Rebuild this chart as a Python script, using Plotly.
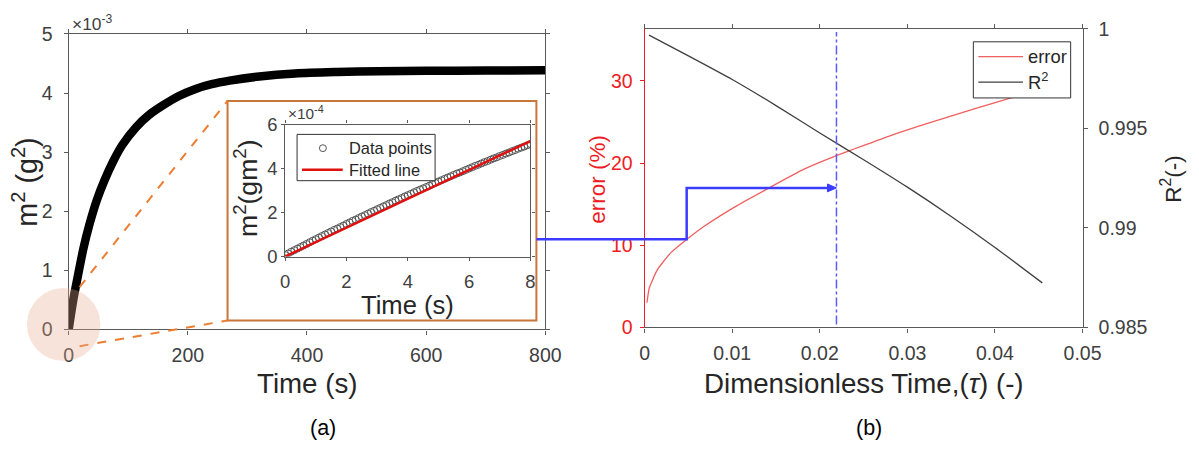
import plotly.graph_objects as go

W, H = 1199, 450

# ---------------- data ----------------
# (a) main curve: time (s) vs m^2 (x1e-3 g^2)
main_t = [0, 8, 15, 25, 35, 47, 60, 75, 90, 113, 135, 158, 185, 213, 240, 270,
          320, 380, 450, 520, 600, 700, 800]
main_m2 = [0, 0.515, 0.88, 1.38, 1.78, 2.18, 2.52, 2.85, 3.12, 3.42, 3.63, 3.79,
           3.95, 4.07, 4.15, 4.21, 4.28, 4.33, 4.355, 4.37, 4.375, 4.38, 4.385]

# (a) inset: first 8 s, m^2 (x1e-4)
inset_t = [0.0, 0.1, 0.2, 0.3, 0.4, 0.5, 0.6, 0.7, 0.8, 0.9,
           1.0, 1.1, 1.2, 1.3, 1.4, 1.5, 1.6, 1.7, 1.8, 1.9,
           2.0, 2.1, 2.2, 2.3, 2.4, 2.5, 2.6, 2.7, 2.8, 2.9,
           3.0, 3.1, 3.2, 3.3, 3.4, 3.5, 3.6, 3.7, 3.8, 3.9,
           4.0, 4.1, 4.2, 4.3, 4.4, 4.5, 4.6, 4.7, 4.8, 4.9,
           5.0, 5.1, 5.2, 5.3, 5.4, 5.5, 5.6, 5.7, 5.8, 5.9,
           6.0, 6.1, 6.2, 6.3, 6.4, 6.5, 6.6, 6.7, 6.8, 6.9,
           7.0, 7.1, 7.2, 7.3, 7.4, 7.5, 7.6, 7.7, 7.8, 7.9,
           8.0]
inset_m2 = [0.07, 0.14, 0.22, 0.29, 0.36, 0.43, 0.50, 0.57, 0.65, 0.72,
            0.79, 0.86, 0.93, 1.00, 1.07, 1.14, 1.21, 1.27, 1.34, 1.41,
            1.48, 1.55, 1.62, 1.68, 1.75, 1.82, 1.88, 1.95, 2.02, 2.08,
            2.15, 2.21, 2.28, 2.34, 2.41, 2.47, 2.54, 2.60, 2.66, 2.73,
            2.79, 2.85, 2.92, 2.98, 3.04, 3.10, 3.16, 3.22, 3.29, 3.35,
            3.41, 3.47, 3.53, 3.59, 3.65, 3.71, 3.77, 3.82, 3.88, 3.94,
            4.00, 4.06, 4.12, 4.17, 4.23, 4.29, 4.34, 4.40, 4.46, 4.51,
            4.57, 4.62, 4.68, 4.73, 4.79, 4.84, 4.90, 4.95, 5.00, 5.06,
            5.11]
fit_t = [0, 8]
fit_m2 = [0.0, 5.25]

# (b) error (%) and R^2 vs dimensionless time
tau_err = [0.00026, 0.00053, 0.0008, 0.0011, 0.0015, 0.00204, 0.003, 0.0048,
           0.0068, 0.0106, 0.014, 0.0182, 0.0219, 0.0257, 0.0288, 0.0334,
           0.038, 0.0421, 0.0455]
err = [3.0, 4.8, 5.5, 6.27, 7.1, 7.87, 9.1, 10.7, 12.3, 14.85, 16.85, 19.25,
       20.9, 22.4, 23.6, 25.2, 26.7, 28.0, 29.1]
tau_r2 = [0.0005, 0.005, 0.01, 0.015, 0.02, 0.025, 0.03, 0.035, 0.04, 0.0454]
r2 = [0.99969, 0.99865, 0.99746, 0.99615, 0.99477, 0.99343, 0.99205, 0.99058,
      0.98902, 0.98724]

# selection marks on (b)
ERR_LOW, ERR_HIGH = 10.74, 16.97
TAU_STEP, TAU_MARK = 0.0048, 0.0219

# tick labels
main_xticks = [0, 200, 400, 600, 800]
main_yticks = [0, 1, 2, 3, 4, 5]
inset_xticks = [0, 2, 4, 6, 8]
inset_yticks = [0, 2, 4, 6]
b_xticks = [0, 0.01, 0.02, 0.03, 0.04, 0.05]
b_xtext = ['0', '0.01', '0.02', '0.03', '0.04', '0.05']
err_ticks = [0, 10, 20, 30]
r2_ticks = [0.985, 0.99, 0.995, 1.0]
r2_text = ['0.985', '0.99', '0.995', '1']

# legend labels
inset_names = ['Data points', 'Fitted line']
b_names = ['error', 'R<sup>2</sup>']

# ---------------- layout geometry ----------------
# target positions are given in picture pixels; the photographed page shows the
# figure with an 8 px page margin scaled back to the window, so map accordingly
SX, SY, OFF = 1215 / 1199, 466 / 450, 8
FS = 1.025  # font compensation for that scaling


def PX(px):
    return (px * SX - OFF) / W


def PY(py):
    return 1 - (py * SY - OFF) / H


def F(s):
    return round(s * FS, 1)


MAIN = dict(l=72, r=552, t=31, b=331)
INS = dict(l=290, r=537, t=123, b=257)
RB = dict(l=652, r=1093, t=26, b=329)
BOX = dict(l=232, r=543, t=99, b=322)
LEG_B = dict(l=983, r=1081, t=39, b=96)
LEG_I = dict(l=302, r=441, t=133, b=180)

ERR_RANGE = [0, 36.3]
R2_RANGE = [0.985, 1.0]
TAU_RANGE = [0, 0.05]


def bxp(tau):
    return RB['l'] + (tau - TAU_RANGE[0]) / (TAU_RANGE[1] - TAU_RANGE[0]) * (RB['r'] - RB['l'])


def byp(e):
    return RB['b'] - (e - ERR_RANGE[0]) / (ERR_RANGE[1] - ERR_RANGE[0]) * (RB['b'] - RB['t'])


FONT = "Liberation Sans, Arial, sans-serif"
GRAY = '#404040'
AXC = '#5a5a5a'
RED = '#ee1c24'
BLUE = '#3c3cff'
ERRC = '#f06060'
R2C = '#404040'
FITC = '#e01010'

fig = go.Figure()

fig.add_trace(go.Scatter(x=main_t, y=main_m2, mode='lines',
                         line=dict(color='black', width=8.5, shape='spline', smoothing=0.8),
                         showlegend=False, xaxis='x', yaxis='y'))

fig.add_trace(go.Scatter(x=inset_t, y=inset_m2, mode='markers', name=inset_names[0],
                         marker=dict(symbol='circle-open', size=7, color='#555555', line=dict(width=1)),
                         xaxis='x2', yaxis='y2', showlegend=False))
fig.add_trace(go.Scatter(x=fit_t, y=fit_m2, mode='lines', name=inset_names[1],
                         line=dict(color=FITC, width=2.5),
                         xaxis='x2', yaxis='y2', showlegend=False))

fig.add_trace(go.Scatter(x=tau_err, y=err, mode='lines', name=b_names[0],
                         line=dict(color=ERRC, width=1.3, shape='spline', smoothing=0.6),
                         xaxis='x3', yaxis='y3', showlegend=False))
fig.add_trace(go.Scatter(x=tau_r2, y=r2, mode='lines', name=b_names[1],
                         line=dict(color=R2C, width=1.3, shape='spline', smoothing=0.6),
                         xaxis='x3', yaxis='y4', showlegend=False))


def axis_common(**kw):
    d = dict(showline=True, linecolor=AXC, linewidth=1.2, ticks='outside', ticklen=4,
             tickcolor=AXC, tickwidth=1.2, showgrid=False, zeroline=False,
             tickfont=dict(family=FONT, size=F(19), color=GRAY))
    d.update(kw)
    return d


fig.update_layout(
    width=W, height=H, autosize=False,
    margin=dict(l=0, r=0, t=0, b=0),
    paper_bgcolor='white', plot_bgcolor='white',
    font=dict(family=FONT, color=GRAY),
    showlegend=False,
    xaxis=axis_common(domain=[PX(MAIN['l']), PX(MAIN['r'])], range=[0, 800],
                      tickvals=main_xticks, mirror='ticks', anchor='y', ticklabelstandoff=4),
    yaxis=axis_common(domain=[PY(MAIN['b']), PY(MAIN['t'])], range=[0, 5],
                      tickvals=main_yticks, mirror='ticks', anchor='x', ticklabelstandoff=7),
    xaxis2=axis_common(domain=[PX(INS['l']), PX(INS['r'])], range=[0, 8],
                       tickvals=inset_xticks, mirror='ticks', anchor='y2', ticklen=3,
                       ticklabelstandoff=5,
                       tickfont=dict(family=FONT, size=F(18), color=GRAY)),
    yaxis2=axis_common(domain=[PY(INS['b']), PY(INS['t'])], range=[0, 6],
                       tickvals=inset_yticks, mirror='ticks', anchor='x2', ticklen=3,
                       tickfont=dict(family=FONT, size=F(18), color=GRAY)),
    xaxis3=axis_common(domain=[PX(RB['l']), PX(RB['r'])], range=TAU_RANGE,
                       tickvals=b_xticks, ticktext=b_xtext, mirror='ticks', anchor='y3',
                       ticklabelstandoff=4),
    yaxis3=axis_common(domain=[PY(RB['b']), PY(RB['t'])], range=ERR_RANGE,
                       tickvals=err_ticks, anchor='x3', linecolor=RED, tickcolor=RED,
                       ticklabelstandoff=3,
                       tickfont=dict(family=FONT, size=F(19), color=RED)),
    yaxis4=axis_common(domain=[PY(RB['b']), PY(RB['t'])], range=R2_RANGE,
                       tickvals=r2_ticks, ticktext=r2_text, overlaying='y3', side='right',
                       anchor='x3', ticklabelstandoff=7),
)

shapes = []
# inset frame
shapes.append(dict(type='rect', xref='paper', yref='paper', x0=PX(BOX['l']), x1=PX(BOX['r']),
                   y0=PY(BOX['b']), y1=PY(BOX['t']), line=dict(color='#c8763a', width=2),
                   layer='below'))
# zoom guide dashed lines
shapes.append(dict(type='line', xref='paper', yref='paper', x0=PX(83), y0=PY(288),
                   x1=PX(BOX['l']), y1=PY(BOX['t']), line=dict(color='#ed7d31', width=2, dash='dash')))
shapes.append(dict(type='line', xref='paper', yref='paper', x0=PX(83), y0=PY(348),
                   x1=PX(BOX['l']), y1=PY(BOX['b']), line=dict(color='#ed7d31', width=2, dash='dash')))
# highlight circle at origin
cx, cy, rr = 67, 326, 37
shapes.append(dict(type='circle', xref='paper', yref='paper', x0=PX(cx - rr), x1=PX(cx + rr),
                   y0=PY(cy + rr), y1=PY(cy - rr), fillcolor='rgba(232,170,140,0.33)',
                   line=dict(width=0), layer='above'))
# blue connector: lower level, step, upper level
yl, yh, xs, xm = byp(ERR_LOW), byp(ERR_HIGH), bxp(TAU_STEP), bxp(TAU_MARK)
path = 'M {:.5f},{:.5f} L {:.5f},{:.5f} L {:.5f},{:.5f} L {:.5f},{:.5f}'.format(
    PX(BOX['r']), PY(yl), PX(xs), PY(yl), PX(xs), PY(yh), PX(xm - 7), PY(yh))
shapes.append(dict(type='path', xref='paper', yref='paper', path=path,
                   line=dict(color=BLUE, width=2.5)))
head = 'M {:.5f},{:.5f} L {:.5f},{:.5f} L {:.5f},{:.5f} Z'.format(
    PX(xm), PY(yh), PX(xm - 9), PY(yh - 4), PX(xm - 9), PY(yh + 4))
shapes.append(dict(type='path', xref='paper', yref='paper', path=head,
                   fillcolor=BLUE, line=dict(color=BLUE, width=1)))
# vertical dash-dot marker
shapes.append(dict(type='line', xref='x3', yref='y3 domain', x0=TAU_MARK, x1=TAU_MARK,
                   y0=0.01, y1=0.99, line=dict(color='#5a5aff', width=1.5, dash='dashdot')))

# legend (b)
shapes.append(dict(type='rect', xref='paper', yref='paper', x0=PX(LEG_B['l']), x1=PX(LEG_B['r']),
                   y0=PY(LEG_B['b']), y1=PY(LEG_B['t']), fillcolor='white',
                   line=dict(color='#333333', width=1)))
for yy, col in [(54, ERRC), (80, R2C)]:
    shapes.append(dict(type='line', xref='paper', yref='paper', x0=PX(988), x1=PX(1033),
                       y0=PY(yy), y1=PY(yy), line=dict(color=col, width=1.3)))
# legend (inset)
shapes.append(dict(type='rect', xref='paper', yref='paper', x0=PX(LEG_I['l']), x1=PX(LEG_I['r']),
                   y0=PY(LEG_I['b']), y1=PY(LEG_I['t']), fillcolor='white',
                   line=dict(color='#333333', width=1)))
shapes.append(dict(type='circle', xref='paper', yref='paper', x0=PX(324.5), x1=PX(331.5),
                   y0=PY(150.5), y1=PY(143.5), line=dict(color='#555555', width=1)))
shapes.append(dict(type='line', xref='paper', yref='paper', x0=PX(307), x1=PX(348),
                   y0=PY(169), y1=PY(169), line=dict(color=FITC, width=2.5)))
fig.update_layout(shapes=shapes)

ann = []


def txt(text, x, y, size, color='#262626', angle=0, xanchor='center', yanchor='middle'):
    ann.append(dict(text=text, x=PX(x), y=PY(y), xref='paper', yref='paper', showarrow=False,
                    font=dict(family=FONT, size=F(size), color=color), textangle=angle,
                    xanchor=xanchor, yanchor=yanchor))


txt('Time (s)', (MAIN['l'] + MAIN['r']) / 2, 386, 27)
txt('m<sup>2</sup> (g<sup>2</sup>)', 28, 181, 28, angle=-90)
txt('\u00d710<sup>-3</sup>', 73, 20, 17, color=GRAY, xanchor='left')
txt('Time (s)', (INS['l'] + INS['r']) / 2, 306, 25)
txt('m<sup>2</sup>(gm<sup>2</sup>)', 250, 187, 26, angle=-90)
txt('\u00d710<sup>-4</sup>', 291, 111, 15, color=GRAY, xanchor='left')
txt('Dimensionless Time,(<i>\u03c4</i>) (-)', (RB['l'] + RB['r']) / 2, 386, 27)
txt('error (%)', 605, 178, 22, color=RED, angle=-90)
txt('R<sup>2</sup>(-)', 1182, 178, 22, angle=-90)
txt('(a)', 328, 431, 21, color='black')
txt('(b)', 878, 431, 21, color='black')
# legend texts
txt(b_names[0], 1036, 54, 18, xanchor='left')
txt(b_names[1], 1036, 79, 18, xanchor='left')
txt(inset_names[0], 352, 147, 16, xanchor='left')
txt(inset_names[1], 352, 169, 16, xanchor='left')
fig.update_layout(annotations=ann)

fig.write_html("out.html")
